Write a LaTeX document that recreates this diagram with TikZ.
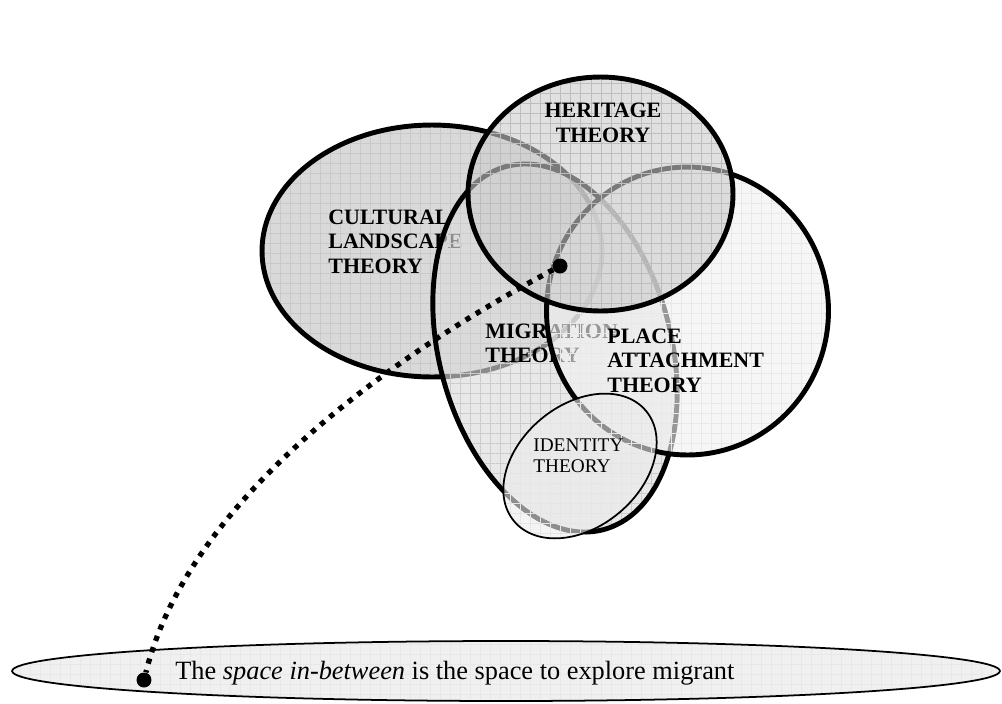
\documentclass[tikz,border=0pt]{standalone}
\usepackage{fontspec}
\setmainfont{Liberation Serif}
\usetikzlibrary{shapes.geometric,patterns.meta}

\begin{document}
\begin{tikzpicture}
		[x=0.02cm,y=-0.02cm,
		lbl/.style={font=\fontsize{12.5}{13.9}\selectfont\bfseries,align=left,anchor=west,inner sep=0pt},
		mesh/.style={postaction={pattern={Lines[distance=5.7pt,line width=0.4pt]},pattern color=#1},
			postaction={pattern={Lines[angle=90,distance=5.7pt,line width=0.4pt]},pattern color=#1}},
		rim/.style={postaction={draw=black,line width=#1}},
		dot/.style={circle,fill=black,inner sep=0pt,minimum size=0.3cm},
		trail/.style={line width=3pt,dash pattern=on 3pt off 3.8pt}]

		\useasboundingbox (0,0) rectangle (1002,704);

		% cultural landscape
		\fill[black!15,mesh=black!21,rim=2.8pt] (432,251) ellipse [x radius=3.4cm, y radius=2.52cm];
		\node[lbl] (cult) at (328,241.5) {CULTURAL\\LANDSCAPE\\THEORY};

		% migration
		\fill[black!14,fill opacity=0.64,mesh=black!20,rim=2.8pt,rotate around={15:(555,348)}]
			(555,348) ellipse [x radius=2.32cm, y radius=3.76cm];
		\node[lbl] (migr) at (485,343.5) {MIGRATION\\THEORY};

		% place attachment
		\fill[black!6,fill opacity=0.63,mesh=black!9,rim=2.8pt] (687.5,311) ellipse [x radius=2.82cm, y radius=2.88cm];
		\node[lbl] (place) at (607,360.5) {PLACE\\ATTACHMENT\\THEORY};

		% heritage
		\fill[black!20,fill opacity=0.6,mesh=black!26,rim=2.8pt] (600.5,194) ellipse [x radius=2.65cm, y radius=2.34cm];
		\node[lbl,align=center,anchor=center] (herit) at (603,123) {HERITAGE\\THEORY};

		% identity
		\fill[black!7,fill opacity=0.6,mesh=black!10,rim=1pt,rotate around={40:(580,466)}]
			(580,466) ellipse [x radius=1.72cm, y radius=1.22cm];
		\node[lbl,font=\fontsize{11}{11.9}\selectfont] (ident) at (533,456) {IDENTITY\\THEORY};

		% in-between
		\fill[black!6,mesh=black!9,rim=1pt] (506,671) ellipse [x radius=9.88cm, y radius=0.6cm];
		\node[font=\fontsize{15}{18}\selectfont,anchor=base west,inner sep=0pt] (space) at (175,679)
			{The \textit{space in-between} is the space to explore migrant};

		\node[dot] (d1) at (560,266) {};
		\node[dot] (d2) at (144,680) {};
		\draw[trail] (d1) .. controls (357,375) and (185,515) .. (d2);

\end{tikzpicture}
\end{document}
